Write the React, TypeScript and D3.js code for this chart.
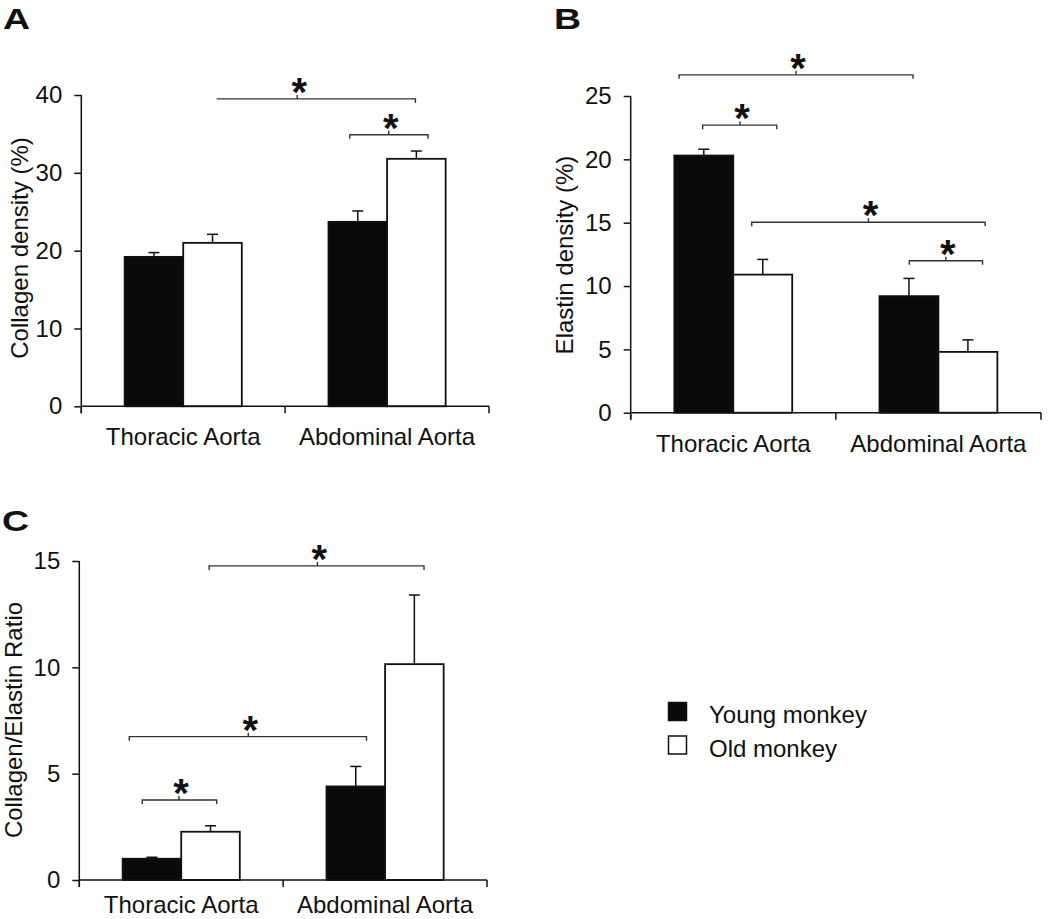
import React, { useRef, useEffect } from 'react'
import * as d3 from 'd3'

const categories = ['Thoracic Aorta', 'Abdominal Aorta']
const groups = ['Young monkey', 'Old monkey']

// panel A - collagen density (%)
const collagenYoung = [19.2, 23.7]
const collagenYoungErr = [0.55, 1.4]
const collagenOld = [21.0, 31.8]
const collagenOldErr = [1.1, 1.0]
const collagenTicks = [0, 10, 20, 30, 40]
// brackets: x1, xMid, x2 (category units), y (data units), left end tick
const collagenSig = [
  { x1: 0.664, xm: 1.059, x2: 1.639, y: 39.5, leftTick: false },
  { x1: 1.317, xm: 1.508, x2: 1.701, y: 34.9, leftTick: true },
]

// panel B - elastin density (%)
const elastinYoung = [20.3, 9.2]
const elastinYoungErr = [0.5, 1.4]
const elastinOld = [10.9, 4.8]
const elastinOldErr = [1.2, 0.95]
const elastinTicks = [0, 5, 10, 15, 20, 25]
const elastinSig = [
  { x1: 0.236, xm: 0.806, x2: 1.376, y: 26.67, leftTick: true },
  { x1: 0.351, xm: 0.533, x2: 0.712, y: 22.7, leftTick: true },
  { x1: 0.59, xm: 1.159, x2: 1.728, y: 15.03, leftTick: true },
  { x1: 1.358, xm: 1.536, x2: 1.715, y: 12.0, leftTick: true },
]

// panel C - collagen/elastin ratio
const ratioYoung = [1.0, 4.4]
const ratioYoungErr = [0.07, 0.94]
const ratioOld = [2.27, 10.15]
const ratioOldErr = [0.28, 3.25]
const ratioTicks = [0, 5, 10, 15]
const ratioSig = [
  { x1: 0.637, xm: 1.168, x2: 1.691, y: 14.77, leftTick: true },
  { x1: 0.245, xm: 0.829, x2: 1.409, y: 6.74, leftTick: true },
  { x1: 0.309, xm: 0.489, x2: 0.674, y: 3.76, leftTick: true },
]

const FONT = 'Liberation Sans, Arial, sans-serif'
const INK = '#111'

function drawPanel(svg, p) {
  const g = svg.append('g')
  const y = d3.scaleLinear().domain([0, p.max]).range([p.bottom, p.top])
  const x = d3.scaleBand().domain(categories).range([p.left, p.right]).padding(0)
  const xc = d3.scaleLinear().domain([0, 2]).range([p.left, p.right])
  const xs = d3.scaleBand().domain(groups).range([0, x.bandwidth()]).paddingOuter(0.74).paddingInner(0)

  const rows = categories.flatMap((c, i) => [
    { cat: c, grp: groups[0], v: p.young[i], e: p.youngErr[i] },
    { cat: c, grp: groups[1], v: p.old[i], e: p.oldErr[i] },
  ])

  // error bars (upper only)
  const err = g.selectAll('g.err').data(rows).join('g')
    .attr('stroke', INK).attr('stroke-width', 1.5)
  err.append('line')
    .attr('x1', d => x(d.cat) + xs(d.grp) + xs.bandwidth() / 2)
    .attr('x2', d => x(d.cat) + xs(d.grp) + xs.bandwidth() / 2)
    .attr('y1', d => y(d.v)).attr('y2', d => y(d.v + d.e))
  err.append('line')
    .attr('x1', d => x(d.cat) + xs(d.grp) + xs.bandwidth() / 2 - 5.5)
    .attr('x2', d => x(d.cat) + xs(d.grp) + xs.bandwidth() / 2 + 5.5)
    .attr('y1', d => y(d.v + d.e)).attr('y2', d => y(d.v + d.e))

  // bars
  g.selectAll('rect.bar').data(rows).join('rect')
    .attr('x', d => x(d.cat) + xs(d.grp))
    .attr('y', d => y(d.v))
    .attr('width', xs.bandwidth())
    .attr('height', d => y(0) - y(d.v))
    .attr('fill', d => d.grp === groups[0] ? '#0a0a0a' : '#fff')
    .attr('stroke', INK)
    .attr('stroke-width', 1.8)

  // y axis
  const yAxis = d3.axisLeft(y).tickValues(p.ticks).tickSize(7).tickPadding(12).tickSizeOuter(0)
  const ya = g.append('g').attr('transform', `translate(${p.left},0)`).call(yAxis)
  ya.select('.domain').remove()
  ya.selectAll('line').attr('stroke', INK).attr('stroke-width', 1.5)
  ya.selectAll('text').attr('font-family', FONT).attr('font-size', 24).attr('fill', INK)

  // axis lines
  g.append('line').attr('x1', p.left).attr('x2', p.left)
    .attr('y1', y(p.max)).attr('y2', p.bottom + 7)
    .attr('stroke', INK).attr('stroke-width', 1.5)
  g.append('line').attr('x1', p.left).attr('x2', p.right)
    .attr('y1', p.bottom).attr('y2', p.bottom)
    .attr('stroke', INK).attr('stroke-width', 1.5)
  g.selectAll('line.xt').data([0, 1, 2]).join('line')
    .attr('x1', d => xc(d)).attr('x2', d => xc(d))
    .attr('y1', p.bottom).attr('y2', p.bottom + 7)
    .attr('stroke', INK).attr('stroke-width', 1.5)

  // category labels (kept inside the 919px frame)
  g.selectAll('text.cat').data(categories).join('text')
    .attr('x', d => x(d) + x.bandwidth() / 2)
    .attr('y', Math.min(p.bottom + 39, 913))
    .attr('text-anchor', 'middle')
    .attr('font-family', FONT).attr('font-size', 24).attr('fill', INK)
    .text(d => d)

  // y title
  g.append('text')
    .attr('transform', `translate(${p.titleX},${p.titleY}) rotate(-90)`)
    .attr('text-anchor', 'middle')
    .attr('font-family', FONT).attr('font-size', 24).attr('fill', INK)
    .text(p.title)

  // significance brackets
  const sig = g.selectAll('g.sig').data(p.sig).join('g')
  sig.append('path')
    .attr('d', d => {
      const yy = y(d.y)
      const l = d.leftTick ? `M${xc(d.x1)},${yy + 4}L${xc(d.x1)},${yy}` : `M${xc(d.x1)},${yy}`
      return `${l}L${xc(d.x2)},${yy}L${xc(d.x2)},${yy + 4}M${xc(d.xm)},${yy}L${xc(d.xm)},${yy - 4}`
    })
    .attr('fill', 'none').attr('stroke', '#333').attr('stroke-width', 1.4)
  sig.append('text')
    .attr('x', d => xc(d.xm) + 2)
    .attr('y', d => y(d.y) + 7)
    .attr('text-anchor', 'middle')
    .attr('font-family', FONT).attr('font-weight', 'bold').attr('font-size', 40).attr('fill', INK)
    .text('*')

  // panel letter
  svg.append('text')
    .attr('transform', `translate(${p.letterX},${p.letterY}) scale(1.25,1)`)
    .attr('font-family', FONT).attr('font-weight', 'bold').attr('font-size', 30).attr('fill', INK)
    .text(p.letter)
}

export default function App() {
  const ref = useRef(null)

  useEffect(() => {
    const svg = d3.select(ref.current)
    svg.selectAll('*').remove()

    drawPanel(svg, {
      letter: 'A', letterX: 3, letterY: 29,
      left: 81.3, right: 489, top: 95, bottom: 406.3, max: 40,
      ticks: collagenTicks, young: collagenYoung, youngErr: collagenYoungErr,
      old: collagenOld, oldErr: collagenOldErr, sig: collagenSig,
      title: 'Collagen density (%)', titleX: 28, titleY: 248,
    })
    drawPanel(svg, {
      letter: 'B', letterX: 554, letterY: 29,
      left: 630.7, right: 1041, top: 96, bottom: 412.7, max: 25,
      ticks: elastinTicks, young: elastinYoung, youngErr: elastinYoungErr,
      old: elastinOld, oldErr: elastinOldErr, sig: elastinSig,
      title: 'Elastin density (%)', titleX: 573, titleY: 255,
    })
    drawPanel(svg, {
      letter: 'C', letterX: 2, letterY: 531,
      left: 79.3, right: 487, top: 561, bottom: 880, max: 15,
      ticks: ratioTicks, young: ratioYoung, youngErr: ratioYoungErr,
      old: ratioOld, oldErr: ratioOldErr, sig: ratioSig,
      title: 'Collagen/Elastin Ratio', titleX: 22, titleY: 720,
    })

    // legend
    const leg = svg.append('g').attr('transform', 'translate(668,702)')
    const item = leg.selectAll('g').data(groups).join('g')
      .attr('transform', (d, i) => `translate(0,${i * 33.5})`)
    item.append('rect')
      .attr('x', 0.5).attr('y', 0.5).attr('width', 18).attr('height', 18)
      .attr('fill', (d, i) => i === 0 ? '#0a0a0a' : '#fff')
      .attr('stroke', INK).attr('stroke-width', 1.5)
    item.append('text')
      .attr('x', 41).attr('y', 21)
      .attr('font-family', FONT).attr('font-size', 24).attr('fill', INK)
      .text(d => d)
  }, [])

  return (
    <svg
      ref={ref}
      width={1050}
      height={919}
      style={{ position: 'absolute', left: 0, top: 0, background: '#fff', display: 'block' }}
    />
  )
}
